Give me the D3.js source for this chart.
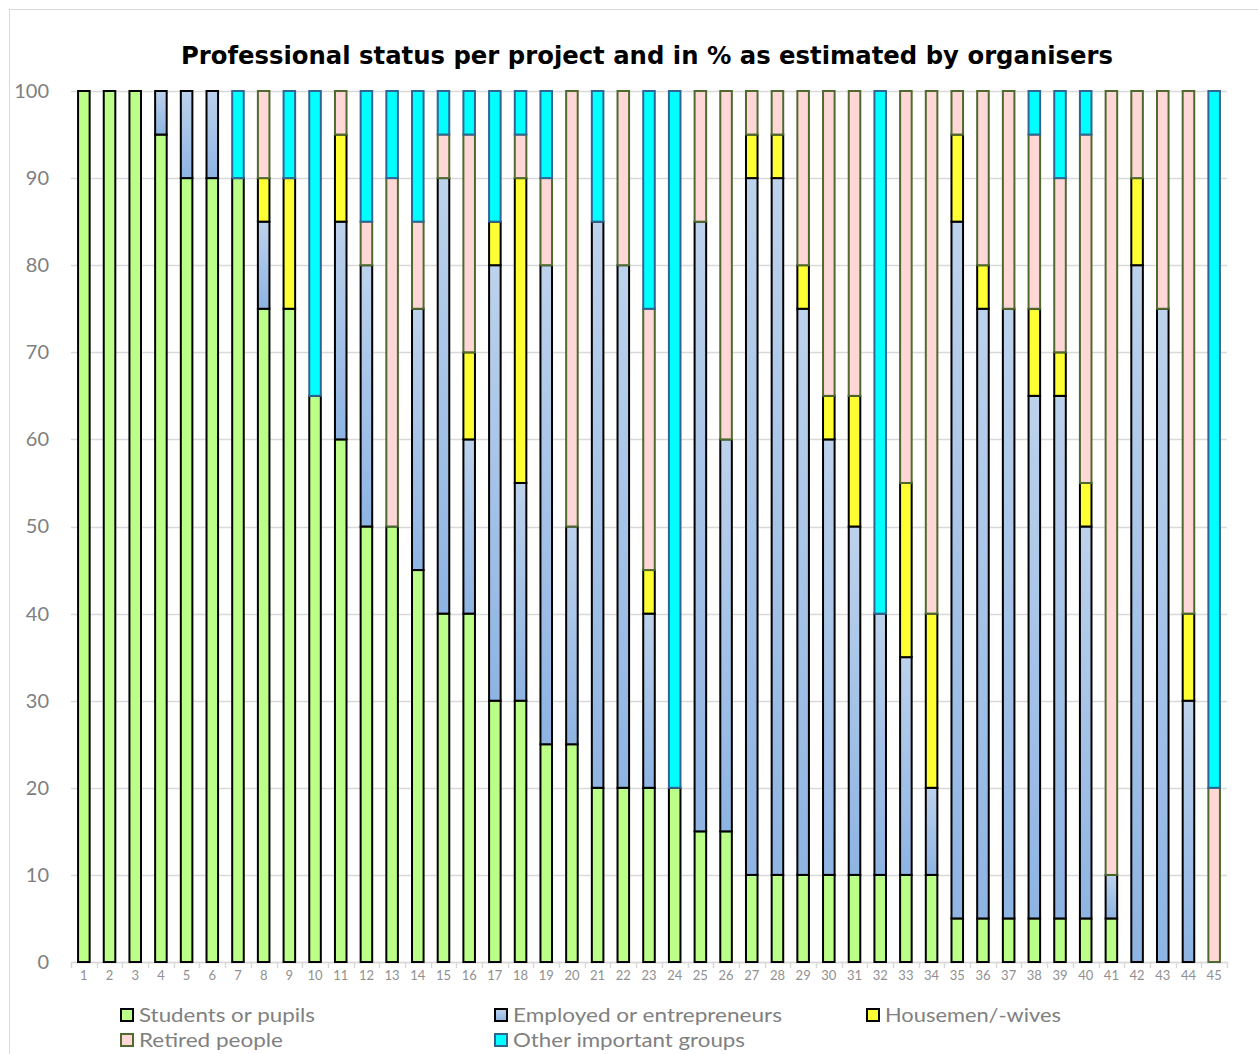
<!DOCTYPE html>
<html>
<head>
<meta charset="utf-8">
<script src="https://cdn.jsdelivr.net/npm/d3@7"></script>
<style>
  body { margin: 0; background: #fff; }
  svg { display: block; }
</style>
</head>
<body>
<div id="chart"></div>
<script>
// projects 1..45
let projects = d3.range(1, 46).map(String);

let students = [100,100,100,95,90,90,90,75,75,65,60,50,50,45,40,40,30,30,25,25,20,20,20,20,15,15,10,10,10,10,10,10,10,10,5,5,5,5,5,5,5,0,0,0,0];
let employed = [0,0,0,5,10,10,0,10,0,0,25,30,0,30,50,20,50,25,55,25,65,60,20,0,70,45,80,80,65,50,40,30,25,10,80,70,70,60,60,45,5,80,75,30,0];
let housemen = [0,0,0,0,0,0,0,5,15,0,10,0,0,0,0,10,5,35,0,0,0,0,5,0,0,0,5,5,5,5,15,0,20,20,10,5,0,10,5,5,0,10,0,10,0];
let retired  = [0,0,0,0,0,0,0,10,0,0,5,5,40,10,5,25,0,5,10,50,0,20,30,0,15,40,5,5,20,35,35,0,45,60,5,20,25,20,20,40,90,10,25,60,20];
let other    = [0,0,0,0,0,0,10,0,10,35,0,15,10,15,5,5,15,5,10,0,15,0,25,80,0,0,0,0,0,0,0,60,0,0,0,0,0,5,10,5,0,0,0,0,80];

let seriesNames = ["Students or pupils", "Employed or entrepreneurs", "Housemen/-wives", "Retired people", "Other important groups"];
let yTicks = [0,10,20,30,40,50,60,70,80,90,100];

let fills = ["#bbff88", "url(#empGrad)", "#ffff33", "#ffd7d7", "#00ffff"];
let strokes = ["#000000", "#000000", "#000000", "#4f6a2e", "#2e6596"];

let width = 1258, height = 1054;
let margin = {top: 91, right: 31, bottom: 92, left: 71};
let innerW = width - margin.left - margin.right;
let innerH = height - margin.top - margin.bottom;

let svg = d3.select("#chart").append("svg")
    .attr("width", width)
    .attr("height", height);

// gradient for employed bars
let grad = svg.append("defs").append("linearGradient")
    .attr("id", "empGrad")
    .attr("x1", 0).attr("y1", 0).attr("x2", 0).attr("y2", 1);
grad.append("stop").attr("offset", "0%").attr("stop-color", "#bdd2ec");
grad.append("stop").attr("offset", "100%").attr("stop-color", "#8eb4e3");

// outer frame
svg.append("rect")
    .attr("x", 9.5).attr("y", 9.5)
    .attr("width", 1270).attr("height", 1060)
    .attr("fill", "none")
    .attr("stroke", "#d9d9d9");

// Title
svg.append("text")
    .attr("x", 647)
    .attr("y", 64)
    .attr("text-anchor", "middle")
    .attr("textLength", 932)
    .attr("lengthAdjust", "spacingAndGlyphs")
    .style("font-family", "'DejaVu Sans', sans-serif")
    .style("font-size", "25px")
    .style("font-weight", "bold")
    .style("fill", "#000")
    .text("Professional status per project and in % as estimated by organisers");

let g = svg.append("g")
    .attr("transform", "translate(" + margin.left + "," + margin.top + ")");

let x = d3.scaleBand().domain(projects).range([0, innerW]).paddingInner(0.55).paddingOuter(0.275);
let xOuter = d3.scaleBand().domain(projects).range([0, innerW]);
let y = d3.scaleLinear().domain([0, 100]).range([innerH, 0]);

// gridlines
g.append("g").selectAll("line")
    .data(yTicks)
    .join("line")
    .attr("x1", 0).attr("x2", innerW)
    .attr("y1", d => Math.round(y(d)) + 0.5)
    .attr("y2", d => Math.round(y(d)) + 0.5)
    .attr("stroke", "#d9d9d9")
    .attr("stroke-width", 1.5);

// y axis labels
let yAxis = d3.axisLeft(y).tickValues(yTicks).tickSize(0).tickPadding(22);
let yG = g.append("g").call(yAxis);
yG.select(".domain").remove();
yG.selectAll("text")
    .style("font-family", "Lato, 'Open Sans', sans-serif")
    .style("font-size", "20px")
    .style("fill", "#808080");

// x axis
let xAxis = d3.axisBottom(xOuter).tickSize(0).tickPadding(9);
let xG = g.append("g").attr("transform", "translate(0," + innerH + ")").call(xAxis);
xG.select(".domain").attr("stroke", "#d9d9d9").attr("stroke-width", 1.5);
xG.selectAll("text")
    .style("font-family", "Lato, 'Open Sans', sans-serif")
    .style("font-size", "13px")
    .style("fill", "#909090");
// tick marks at category boundaries
xG.append("g").selectAll("line")
    .data(d3.range(0, projects.length + 1))
    .join("line")
    .attr("x1", d => Math.round(d * xOuter.step()) + 0.5)
    .attr("x2", d => Math.round(d * xOuter.step()) + 0.5)
    .attr("y1", 0).attr("y2", 6)
    .attr("stroke", "#d9d9d9")
    .attr("stroke-width", 1.5);

// stack
let rows = projects.map((p, i) => ({
    project: p,
    s0: students[i], s1: employed[i], s2: housemen[i], s3: retired[i], s4: other[i]
}));
let stack = d3.stack().keys(["s0", "s1", "s2", "s3", "s4"]);
let layers = stack(rows);

layers.forEach(function (layer, li) {
    g.append("g")
        .selectAll("rect")
        .data(layer.filter(d => d[1] - d[0] > 0))
        .join("rect")
        .attr("x", d => x(d.data.project))
        .attr("y", d => y(d[1]))
        .attr("width", x.bandwidth())
        .attr("height", d => y(d[0]) - y(d[1]))
        .attr("fill", fills[li])
        .attr("stroke", strokes[li])
        .attr("stroke-width", 2);
});

// legend (second row kept inside the picture)
let legendPos = [
    [120, 1015], [494, 1015], [866, 1015],
    [120, 1040], [494, 1040]
];
let legend = svg.append("g");
seriesNames.forEach(function (name, i) {
    let item = legend.append("g")
        .attr("transform", "translate(" + legendPos[i][0] + "," + legendPos[i][1] + ")");
    item.append("rect")
        .attr("x", 1).attr("y", -6)
        .attr("width", 12).attr("height", 12)
        .attr("fill", fills[i])
        .attr("stroke", strokes[i])
        .attr("stroke-width", 2);
    item.append("text")
        .attr("x", 19)
        .attr("y", 7)
        .attr("textLength", [176, 269, 176, 144, 232][i])
        .attr("lengthAdjust", "spacingAndGlyphs")
        .style("font-family", "Lato, 'Open Sans', sans-serif")
        .style("font-size", "20px")
        .style("fill", "#808080")
        .text(name);
});
</script>
</body>
</html>
